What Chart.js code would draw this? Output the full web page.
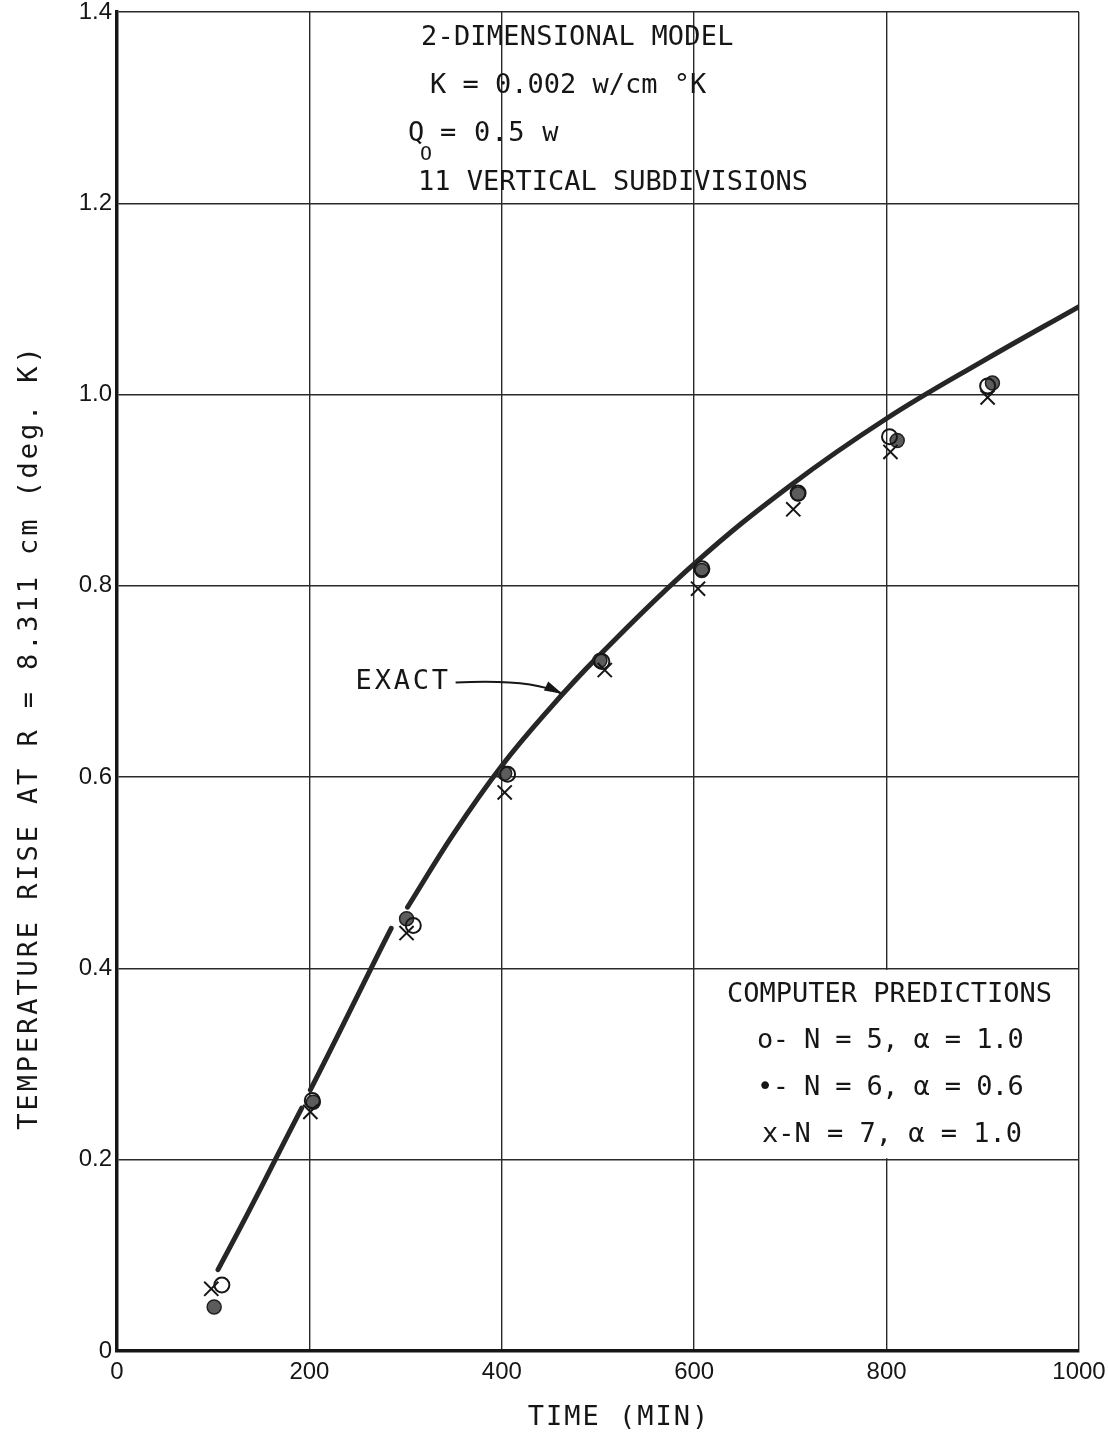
<!DOCTYPE html>
<html><head><meta charset="utf-8">
<script src="https://cdn.jsdelivr.net/npm/chart.js@4.4.1/dist/chart.umd.min.js"></script>
<style>html,body{margin:0;padding:0;background:#fff;}#wrap{width:1108px;height:1437px;}</style>
</head><body><div id="wrap"><canvas id="c" width="1108" height="1437"></canvas></div>
<script>
// ---- data ----
const xTicks = [0, 200, 400, 600, 800, 1000];
const yTicks = [0, 0.2, 0.4, 0.6, 0.8, 1.0, 1.2, 1.4];

// exact solution (hand-drawn curve, pen lifts shown as null gaps)
const exactTime = [105, 135, 166, 192, 196, 201, 232, 265, 285, 294, 302, 350, 400, 450, 500, 600, 700, 800, 900, 1000];
const exactRise = [0.085, 0.142, 0.203, 0.254, null, 0.273, 0.335, 0.402, 0.442, null, 0.464, 0.541, 0.612, 0.672, 0.726, 0.823, 0.905, 0.975, 1.035, 1.092];

// computer predictions
const n5Time = [109, 203, 308, 406, 504, 608, 708, 803, 905];
const n5Rise = [0.069, 0.262, 0.445, 0.603, 0.721, 0.818, 0.897, 0.956, 1.009];
const n6Time = [101, 204, 301, 403, 502, 608, 708, 811, 910, 1009];
const n6Rise = [0.046, 0.260, 0.452, 0.604, 0.722, 0.816, 0.896, 0.952, 1.012, 1.052];
const n7Time = [98, 201, 301, 403, 507, 604, 703, 804, 905];
const n7Rise = [0.065, 0.250, 0.437, 0.584, 0.712, 0.797, 0.880, 0.940, 0.997];

const headerLines = ["2-DIMENSIONAL MODEL", "K = 0.002 w/cm °K", "= 0.5 w", "11 VERTICAL SUBDIVISIONS"];
const legendLines = ["COMPUTER PREDICTIONS", "o- N = 5, \u03b1 = 1.0", "\u2022- N = 6, \u03b1 = 0.6", "x-N = 7, \u03b1 = 1.0"];
const xTitle = "TIME (MIN)";
const yTitle = "TEMPERATURE RISE AT R = 8.311 cm (deg. K)";
const exactLabel = "EXACT";
// legend panel covers this grid cell (data units)
const legendCell = {x0: 600, x1: 1000, y0: 0.2, y1: 0.4};

const zip = (xs, ys) => xs.map((x, i) => ({x: x, y: ys[i]}));

const INK = '#161616';
const MONO = "'DejaVu Sans Mono', 'Liberation Mono', monospace";

function txt(ctx, s, x, y, size, spacing, align) {
  ctx.font = size + 'px ' + MONO;
  try { ctx.letterSpacing = spacing + 'px'; } catch (e) {}
  ctx.textAlign = align || 'left';
  ctx.textBaseline = 'middle';
  ctx.fillText(s, x, y);
}

const panelPlugin = {
  id: 'panel',
  beforeDatasetsDraw(chart) {
    const {ctx, scales: {x, y}} = chart;
    ctx.save();
    ctx.fillStyle = '#fff';
    const l = x.getPixelForValue(legendCell.x0) + 1.5, r = x.getPixelForValue(legendCell.x1) - 1.5;
    const t = y.getPixelForValue(legendCell.y1) + 1.5, b = y.getPixelForValue(legendCell.y0) - 1.5;
    ctx.fillRect(l, t, r - l, b - t);
    ctx.restore();
  },
  afterDatasetsDraw(chart) {
    const {ctx, scales: {x, y}} = chart;
    ctx.save();
    ctx.fillStyle = INK;
    // header block
    txt(ctx, headerLines[0], 421, 38, 27, 0.2);
    txt(ctx, headerLines[1], 430, 86, 27, 0);
    txt(ctx, 'Q', 408, 134, 27, 0);
    txt(ctx, 'O', 420, 155, 20, 0);
    txt(ctx, headerLines[2], 440, 134, 27, 0.8);
    txt(ctx, headerLines[3], 418, 183, 27, 0);
    // legend block
    txt(ctx, legendLines[0], 727, 995, 27, 0);
    txt(ctx, legendLines[1], 757, 1041, 27, -0.6);
    txt(ctx, legendLines[2], 757, 1088, 27, -0.6);
    txt(ctx, legendLines[3], 762, 1135, 27, 0);
    // EXACT label + arrow
    const ly = y.getPixelForValue(0.699);
    txt(ctx, exactLabel, x.getPixelForValue(248), ly, 27, 2.8);
    const sx = x.getPixelForValue(352), sy = ly;
    const cx = x.getPixelForValue(430), cy = y.getPixelForValue(0.703);
    const ex = x.getPixelForValue(461), ey = y.getPixelForValue(0.688);
    ctx.strokeStyle = INK; ctx.lineWidth = 2;
    ctx.beginPath(); ctx.moveTo(sx, sy); ctx.quadraticCurveTo(cx, cy, ex, ey); ctx.stroke();
    const ang = Math.atan2(ey - cy, ex - cx);
    ctx.beginPath();
    ctx.moveTo(ex + 2 * Math.cos(ang), ey + 2 * Math.sin(ang));
    ctx.lineTo(ex - 16 * Math.cos(ang) - 5 * Math.sin(ang), ey - 16 * Math.sin(ang) + 5 * Math.cos(ang));
    ctx.lineTo(ex - 16 * Math.cos(ang) + 5 * Math.sin(ang), ey - 16 * Math.sin(ang) - 5 * Math.cos(ang));
    ctx.closePath(); ctx.fill();
    // axis titles
    txt(ctx, xTitle, 619, 1418, 27, 2.0, 'center');
    ctx.save();
    ctx.translate(30, 737);
    ctx.rotate(-Math.PI / 2);
    txt(ctx, yTitle, 0, 0, 27, 2.9, 'center');
    ctx.restore();
    ctx.restore();
  }
};

new Chart(document.getElementById('c'), {
  type: 'scatter',
  data: {
    datasets: [
      {label: 'EXACT', data: zip(exactTime, exactRise), showLine: true, spanGaps: false,
       borderColor: '#262626', borderWidth: 5, pointRadius: 0, tension: 0.4,
       borderCapStyle: 'round', order: 4},
      {label: 'N = 6, \u03b1 = 0.6', data: zip(n6Time, n6Rise), pointStyle: 'circle', pointRadius: 7,
       backgroundColor: '#5c5c5c', borderColor: '#202020', borderWidth: 1.5, order: 3},
      {label: 'N = 5, \u03b1 = 1.0', data: zip(n5Time, n5Rise), pointStyle: 'circle', pointRadius: 7.5,
       backgroundColor: 'rgba(255,255,255,0)', borderColor: INK, borderWidth: 2, order: 2},
      {label: 'N = 7, \u03b1 = 1.0', data: zip(n7Time, n7Rise), pointStyle: 'crossRot', pointRadius: 10,
       borderColor: INK, borderWidth: 2, order: 1}
    ]
  },
  options: {
    responsive: false, animation: false, devicePixelRatio: 1,
    layout: {padding: {top: 12, right: 29, left: 0, bottom: 0}},
    plugins: {legend: {display: false}, tooltip: {enabled: false}},
    scales: {
      x: {
        type: 'linear', min: 0, max: 1000,
        afterBuildTicks: s => { s.ticks = xTicks.map(v => ({value: v})); },
        afterFit: s => { s.height = 86; s.paddingLeft = 0; s.paddingRight = 0; },
        ticks: {color: INK, padding: 7, font: {family: "'Liberation Sans', Arial, sans-serif", size: 24, lineHeight: 1.2},
                callback: v => String(v), maxRotation: 0},
        grid: {color: '#2a2a2a', lineWidth: 1.4, drawTicks: false},
        border: {display: true, color: INK, width: 3.5}
      },
      y: {
        type: 'linear', min: 0, max: 1.4,
        afterBuildTicks: s => { s.ticks = yTicks.map(v => ({value: v})); },
        afterFit: s => { s.width = 117; s.paddingTop = 0; s.paddingBottom = 0; },
        ticks: {color: INK, padding: 5, font: {family: "'Liberation Sans', Arial, sans-serif", size: 24, lineHeight: 1},
                callback: v => (v === 0 ? '0' : v.toFixed(1))},
        grid: {color: '#2a2a2a', lineWidth: 1.4, drawTicks: false},
        border: {display: true, color: INK, width: 3.5}
      }
    }
  },
  plugins: [panelPlugin]
});
</script>
</body></html>
